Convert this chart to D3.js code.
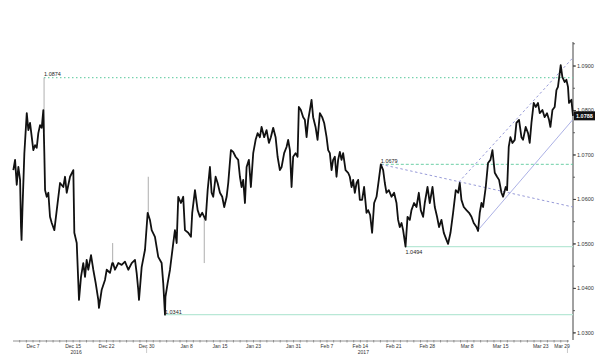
<!DOCTYPE html>
<html>
<head>
<meta charset="utf-8">
<script src="https://cdn.jsdelivr.net/npm/d3@7"></script>
<style>
  html, body { margin: 0; padding: 0; background: #fff; }
  svg { display: block; font-family: "Liberation Sans", Arial, sans-serif; }
</style>
</head>
<body>
<div id="chart"></div>
<script>
// EUR/USD, trading-day index counted from Dec 7 2016 (weekends removed)
const t = [-2.95,-2.69,-2.44,-2.20,-1.94,-1.80,-1.72,-1.60,-1.30,-0.94,-0.70,-0.45,-0.19,0.04,0.30,0.55,0.79,1.05,1.30,1.54,1.65,1.69,1.80,2.05,2.29,2.54,2.80,3.19,3.55,4.04,4.53,4.79,5.04,5.54,6.03,6.18,6.54,6.78,6.88,7.18,7.52,7.78,8.03,8.27,8.68,9.02,9.38,9.77,9.87,10.28,10.77,11.03,11.52,11.86,11.92,11.97,12.27,12.76,13.27,13.76,14.26,14.77,15.26,15.51,15.75,15.86,16.26,16.76,17.16,17.25,17.50,17.76,18.25,18.74,19.25,19.49,19.75,19.82,20.15,20.50,20.99,21.24,21.50,21.74,22.14,22.48,22.74,23.23,23.64,23.83,24.24,24.64,24.98,25.33,25.63,25.84,26.14,26.48,26.73,26.97,27.33,27.63,27.98,28.32,28.62,28.98,29.22,29.62,29.96,30.32,30.71,30.97,31.22,31.46,31.72,31.97,32.31,32.61,32.96,33.32,33.62,33.96,34.21,34.60,34.96,35.31,35.60,35.95,36.31,36.61,36.95,37.21,37.59,37.95,38.19,38.45,38.70,38.94,39.30,39.60,39.79,40.09,40.44,40.69,40.95,41.19,41.44,41.69,41.93,42.29,42.59,42.94,43.28,43.58,43.94,44.18,44.43,44.69,44.92,45.18,45.43,45.67,45.93,46.18,46.42,46.78,47.17,47.42,47.68,47.92,48.17,48.43,48.67,48.92,49.26,49.56,49.92,50.16,50.46,50.76,51.06,51.42,51.76,52.06,52.41,52.66,52.91,53.26,53.66,54.05,54.41,54.65,54.90,55.16,55.40,55.76,56.06,56.40,56.65,57.04,57.40,57.75,58.04,58.39,58.64,59.05,59.39,59.80,60.14,60.48,60.78,61.14,61.49,61.89,62.13,62.49,62.88,63.28,63.63,63.88,64.13,64.48,64.88,65.27,65.63,65.97,66.38,66.62,66.87,67.13,67.37,67.77,68.11,68.47,68.77,69.12,69.46,69.76,70.12,70.36,70.76,70.96,71.21,71.46,71.76,72.11,72.36,72.75,73.11,73.35,73.75,74.10,74.35,74.61,74.95,75.25,75.59,75.85,76.25,76.59,76.94,77.24,77.45,77.75,78.09,78.35,78.58,78.84,78.99,79.24,79.59,79.84,80.08,80.23,80.59,80.83];
const price = [1.0666,1.0689,1.0633,1.0673,1.0644,1.0538,1.0509,1.0570,1.0704,1.0794,1.0756,1.0772,1.0740,1.0711,1.0722,1.0716,1.0749,1.0767,1.0761,1.0801,1.0874,1.0704,1.0621,1.0606,1.0615,1.0561,1.0547,1.0531,1.0576,1.0637,1.0628,1.0651,1.0615,1.0651,1.0666,1.0525,1.0502,1.0412,1.0374,1.0426,1.0457,1.0426,1.0464,1.0442,1.0475,1.0442,1.0412,1.0374,1.0356,1.0397,1.0419,1.0442,1.0435,1.0457,1.0502,1.0457,1.0442,1.0457,1.0453,1.0460,1.0442,1.0457,1.0464,1.0435,1.0397,1.0374,1.0448,1.0487,1.0570,1.0651,1.0554,1.0531,1.0516,1.0471,1.0457,1.0412,1.0341,1.0381,1.0412,1.0442,1.0502,1.0531,1.0502,1.0606,1.0592,1.0606,1.0531,1.0525,1.0516,1.0570,1.0621,1.0576,1.0561,1.0570,1.0457,1.0554,1.0621,1.0673,1.0615,1.0606,1.0651,1.0637,1.0615,1.0606,1.0583,1.0606,1.0637,1.0711,1.0707,1.0696,1.0689,1.0651,1.0628,1.0644,1.0592,1.0673,1.0689,1.0628,1.0704,1.0734,1.0749,1.0740,1.0763,1.0740,1.0756,1.0727,1.0740,1.0761,1.0740,1.0696,1.0666,1.0673,1.0704,1.0718,1.0734,1.0711,1.0628,1.0696,1.0704,1.0696,1.0808,1.0801,1.0785,1.0779,1.0740,1.0779,1.0801,1.0824,1.0785,1.0763,1.0734,1.0794,1.0785,1.0772,1.0740,1.0711,1.0704,1.0666,1.0689,1.0696,1.0651,1.0689,1.0707,1.0689,1.0704,1.0666,1.0660,1.0651,1.0628,1.0644,1.0615,1.0637,1.0644,1.0599,1.0599,1.0628,1.0570,1.0576,1.0565,1.0525,1.0592,1.0606,1.0644,1.0679,1.0666,1.0637,1.0615,1.0621,1.0606,1.0615,1.0592,1.0554,1.0538,1.0547,1.0531,1.0494,1.0561,1.0554,1.0576,1.0592,1.0583,1.0615,1.0576,1.0561,1.0592,1.0628,1.0592,1.0628,1.0583,1.0561,1.0538,1.0554,1.0525,1.0509,1.0500,1.0525,1.0570,1.0621,1.0615,1.0637,1.0599,1.0583,1.0576,1.0570,1.0561,1.0547,1.0538,1.0529,1.0570,1.0592,1.0583,1.0628,1.0682,1.0689,1.0711,1.0660,1.0651,1.0644,1.0615,1.0606,1.0628,1.0621,1.0718,1.0740,1.0727,1.0734,1.0772,1.0779,1.0740,1.0734,1.0763,1.0749,1.0727,1.0772,1.0817,1.0808,1.0817,1.0794,1.0801,1.0785,1.0794,1.0779,1.0763,1.0801,1.0808,1.0846,1.0853,1.0884,1.0902,1.0875,1.0864,1.0869,1.0853,1.0817,1.0824,1.0788];

// single-tick wicks drawn thin and grey, as in the original
const wickIdx = [1.65, 11.92, 17.25, 25.63];

const xTickDates = ["2016-12-07","2016-12-15","2016-12-22","2016-12-30","2017-01-08","2017-01-15","2017-01-23","2017-01-31","2017-02-07","2017-02-14","2017-02-21","2017-02-28","2017-03-08","2017-03-15","2017-03-23","2017-03-29"];
const xTickLabels = ["Dec 7","Dec 15","Dec 22","Dec 30","Jan 8","Jan 15","Jan 23","Jan 31","Feb 7","Feb 14","Feb 21","Feb 28","Mar 8","Mar 15","Mar 23","Mar 29"];
const yearLabels = ["2016","2017"];
const yearDates = ["2016-12-15","2017-02-14"];
const yTicks = [1.03, 1.04, 1.05, 1.06, 1.07, 1.08, 1.09];

// horizontal levels: value, start index, label
const levelValues = [1.0874, 1.0679, 1.0494, 1.0341];
const levelStart = [1.65, 52.06, 55.76, 19.75];
const levelLabels = ["1.0874", "1.0679", "1.0494", "1.0341"];

// trend lines [index, value]
const trendFrom = [[52.06, 1.0679], [63.73, 1.0639], [66.62, 1.0531]];
const trendTo = [[80.83, 1.0583], [80.78, 1.0918], [80.78, 1.0779]];

const W = 600, H = 364;
const base = new Date(2016, 11, 7);

// weekdays between Dec 7 2016 and the date
function tradingIndex(s) {
    const p = s.split('-').map(Number);
    const d = new Date(p[0], p[1] - 1, p[2]);
    let n = 0;
    const c = new Date(base);
    const dir = d >= base ? 1 : -1;
    while ((dir > 0 && c < d) || (dir < 0 && c > d)) {
        if (dir < 0) c.setDate(c.getDate() - 1);
        const wd = c.getDay();
        if (wd !== 0 && wd !== 6) n += dir;
        if (dir > 0) c.setDate(c.getDate() + 1);
    }
    return n;
}

const x = d3.scaleLinear().domain([-3, 80.83]).range([13, 573]);
const y = d3.scaleLinear().domain([1.0284, 1.0954]).range([340, 42]);

const svg = d3.select('#chart').append('svg')
    .attr('width', W).attr('height', H);

// y axis on the right
const yAxisX = x(80.83);
svg.append('line')
    .attr('x1', yAxisX).attr('x2', yAxisX)
    .attr('y1', y.range()[1]).attr('y2', y.range()[0])
    .attr('stroke', '#444').attr('stroke-width', 1);

const minorY = d3.range(1.03, 1.0951, 0.005);
svg.selectAll('line.ymin').data(minorY).enter().append('line')
    .attr('class', 'ymin')
    .attr('x1', yAxisX).attr('x2', yAxisX + 2)
    .attr('y1', d => y(d)).attr('y2', d => y(d))
    .attr('stroke', '#444').attr('stroke-width', 0.8);

svg.selectAll('line.ymaj').data(yTicks).enter().append('line')
    .attr('class', 'ymaj')
    .attr('x1', yAxisX).attr('x2', yAxisX + 3)
    .attr('y1', d => y(d)).attr('y2', d => y(d))
    .attr('stroke', '#444').attr('stroke-width', 1);

svg.selectAll('text.ylab').data(yTicks).enter().append('text')
    .attr('class', 'ylab')
    .attr('x', yAxisX + 4)
    .attr('y', d => y(d))
    .attr('dominant-baseline', 'central')
    .attr('font-size', '5.5px')
    .attr('fill', '#333')
    .text(d => d.toFixed(4));

// x axis
const xAxisY = 341;
svg.append('line')
    .attr('x1', 13).attr('x2', 569)
    .attr('y1', xAxisY).attr('y2', xAxisY)
    .attr('stroke', '#777').attr('stroke-width', 0.8);

const minorX = d3.range(-2, 81, 1);
svg.selectAll('line.xmin').data(minorX).enter().append('line')
    .attr('class', 'xmin')
    .attr('x1', d => x(d)).attr('x2', d => x(d))
    .attr('y1', xAxisY - 1).attr('y2', xAxisY + 1.5)
    .attr('stroke', '#777').attr('stroke-width', 0.7);

const xTickIdx = xTickDates.map(tradingIndex);
svg.selectAll('text.xlab').data(xTickLabels).enter().append('text')
    .attr('class', 'xlab')
    .attr('x', (d, i) => Math.min(x(xTickIdx[i]), 562))
    .attr('y', xAxisY + 6.5)
    .attr('text-anchor', 'middle')
    .attr('font-size', '5px')
    .attr('fill', '#333')
    .text(d => d);

svg.selectAll('text.year').data(yearLabels).enter().append('text')
    .attr('class', 'year')
    .attr('x', (d, i) => x(tradingIndex(yearDates[i])) + 3)
    .attr('y', xAxisY + 12.5)
    .attr('text-anchor', 'middle')
    .attr('font-size', '5px')
    .attr('fill', '#333')
    .text(d => d);

// year separator and axis end marks
[tradingIndex("2016-12-30"), 80].forEach(v => {
    svg.append('line')
        .attr('x1', x(v)).attr('x2', x(v))
        .attr('y1', xAxisY + 5).attr('y2', xAxisY + 12)
        .attr('stroke', '#bbb').attr('stroke-width', 0.8);
});

// horizontal levels
const levelStyle = [
    { stroke: '#6fd0a8', dash: '1.4,2.6', width: 1.1 },
    { stroke: '#5cc99c', dash: '3,2', width: 0.9 },
    { stroke: '#b9e8d6', dash: null, width: 1.2 },
    { stroke: '#b9e8d6', dash: null, width: 1.2 }
];
const labelDy = [-1.5, -1.5, 7, -1];

levelValues.forEach((v, i) => {
    svg.append('line')
        .attr('x1', x(levelStart[i])).attr('x2', yAxisX)
        .attr('y1', y(v)).attr('y2', y(v))
        .attr('stroke', levelStyle[i].stroke)
        .attr('stroke-width', levelStyle[i].width)
        .attr('stroke-dasharray', levelStyle[i].dash);
    svg.append('text')
        .attr('x', x(levelStart[i]))
        .attr('y', y(v) + labelDy[i])
        .attr('font-size', '5.5px')
        .attr('fill', '#222')
        .text(levelLabels[i]);
});

// trend lines
const trendStyle = [
    { stroke: '#8b8fd2', dash: '2.5,2.5' },
    { stroke: '#8b8fd2', dash: '2.5,2.5' },
    { stroke: '#a3a8e2', dash: null }
];
trendFrom.forEach((a, i) => {
    const b = trendTo[i];
    svg.append('line')
        .attr('x1', x(a[0])).attr('y1', y(a[1]))
        .attr('x2', x(b[0])).attr('y2', y(b[1]))
        .attr('stroke', trendStyle[i].stroke)
        .attr('stroke-width', 0.9)
        .attr('stroke-dasharray', trendStyle[i].dash);
});

// price: wicks first (thin grey), then the body line without them
const idx = d3.range(t.length);
const isWick = i => wickIdx.includes(t[i]);

const line = d3.line()
    .x(i => x(t[i]))
    .y(i => y(price[i]));

svg.selectAll('line.wick').data(idx.filter(isWick)).enter().append('line')
    .attr('class', 'wick')
    .attr('x1', i => x(t[i])).attr('x2', i => x(t[i]))
    .attr('y1', i => y(price[i]))
    .attr('y2', i => y((price[i - 1] + price[i + 1]) / 2))
    .attr('stroke', '#999')
    .attr('stroke-width', 0.8);

svg.append('path')
    .attr('d', line(idx.filter(i => !isWick(i))))
    .attr('fill', 'none')
    .attr('stroke', '#111')
    .attr('stroke-width', 1.8)
    .attr('stroke-linejoin', 'round');

// last value tag
const last = price[price.length - 1];
svg.append('rect')
    .attr('x', yAxisX + 1).attr('y', y(last) - 4.5)
    .attr('width', 21).attr('height', 9)
    .attr('fill', '#111');
svg.append('text')
    .attr('x', yAxisX + 3).attr('y', y(last))
    .attr('dominant-baseline', 'central')
    .attr('font-size', '5.5px')
    .attr('font-weight', 'bold')
    .attr('fill', '#fff')
    .text(last.toFixed(4));
</script>
</body>
</html>
